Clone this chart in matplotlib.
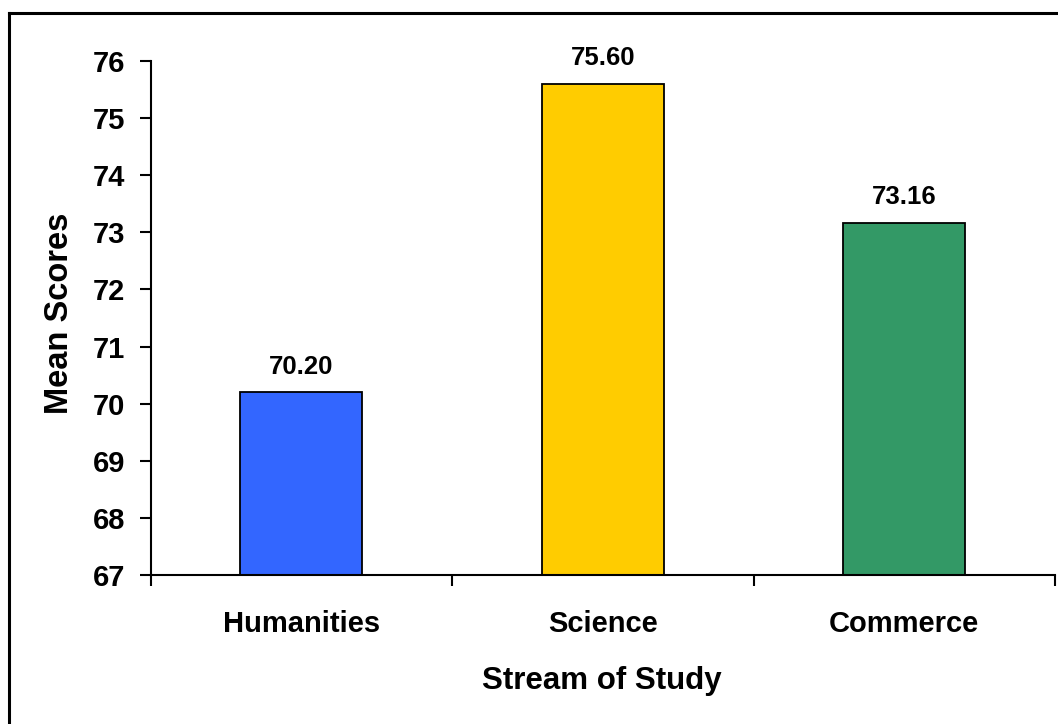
import matplotlib
matplotlib.use('Agg')
import matplotlib.pyplot as plt
from matplotlib.lines import Line2D

plt.rcParams['font.family'] = ['Liberation Sans', 'DejaVu Sans']
plt.rcParams['font.weight'] = 'bold'

# mean scores by stream
streams = ['Humanities', 'Science', 'Commerce']
mean_scores = [70.20, 75.60, 73.16]
bar_colors = ['#3366FF', '#FFCC00', '#339966']
y_ticks = [67, 68, 69, 70, 71, 72, 73, 74, 75, 76]

W, H = 1058, 724
fig = plt.figure(figsize=(W / 100, H / 100), dpi=100)
ax = fig.add_axes([150.5 / W, (H - 575) / H, (1055 - 150.5) / W, (575 - 61) / H])

x = range(len(streams))
ax.bar(x, mean_scores, width=0.405, bottom=0,
       color=bar_colors, edgecolor='black', linewidth=1.3)

for xi, v in zip(x, mean_scores):
    ax.text(xi, v + 0.24, f'{v:.2f}', ha='center', va='bottom',
            fontsize=18.5, fontweight='bold')

ax.set_ylim(67, 76)
ax.set_xlim(-0.5, 2.5)
ax.set_yticks(y_ticks)
ax.set_yticklabels([str(t) for t in y_ticks], fontsize=21, fontweight='bold')
ax.set_xticks(list(x))
ax.set_xticklabels(streams, fontsize=21, fontweight='bold')
ax.set_xticks([-0.5, 0.5, 1.5, 2.5], minor=True)
ax.tick_params(axis='x', which='major', length=0, pad=25)
ax.tick_params(axis='x', which='minor', length=8, width=1.5, direction='out')
ax.tick_params(axis='y', length=8, width=1.5, direction='out', pad=10)

for side in ['top', 'right']:
    ax.spines[side].set_visible(False)
for side in ['left', 'bottom']:
    ax.spines[side].set_linewidth(1.5)

# axis titles
fig.text(59 / W, 1 - 313 / H, 'Mean Scores', rotation=90, ha='center', va='center',
         fontsize=23.5, fontweight='bold')
fig.text(602 / W, 1 - 681 / H, 'Stream of Study', ha='center', va='center',
         fontsize=22.5, fontweight='bold')

# outer chart frame (left and top edges)
fig.add_artist(Line2D([8.5 / W, 8.5 / W], [0, 1 - 12.5 / H], transform=fig.transFigure,
                      color='black', linewidth=2.2))
fig.add_artist(Line2D([8.5 / W, 1], [1 - 12.5 / H, 1 - 12.5 / H], transform=fig.transFigure,
                      color='black', linewidth=2.2))

fig.savefig('out.png', dpi=100)
